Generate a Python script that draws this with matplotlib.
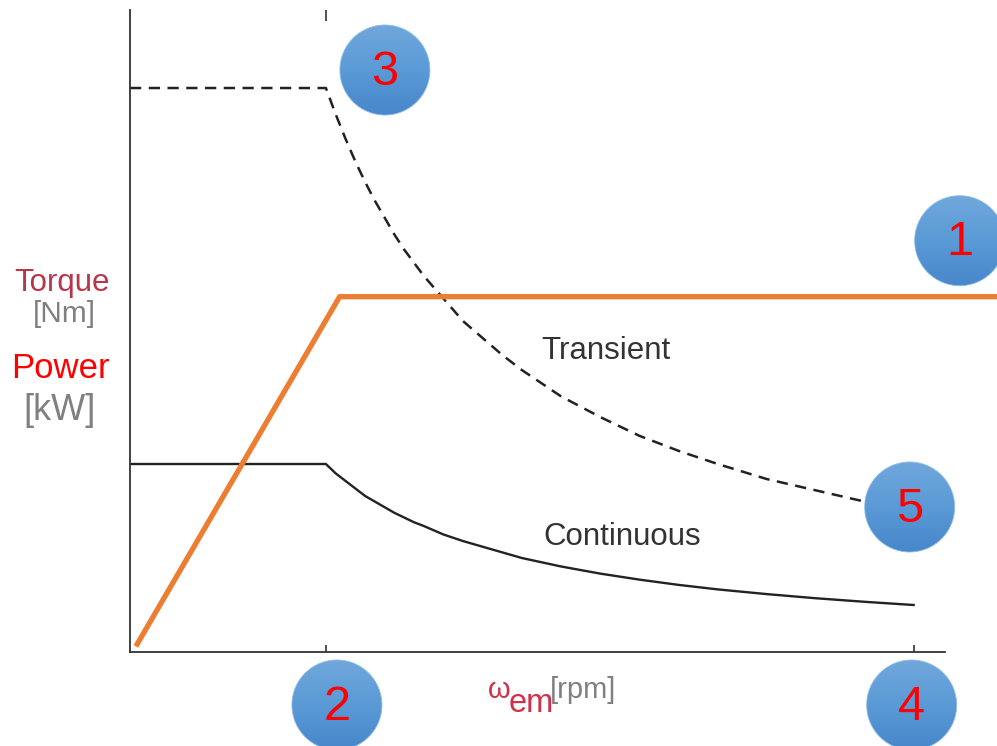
import numpy as np
import matplotlib
matplotlib.use("Agg")
import matplotlib.pyplot as plt
from matplotlib.patches import Circle
from matplotlib.colors import LinearSegmentedColormap

plt.rcParams['font.family'] = ['Liberation Sans', 'DejaVu Sans']

# speed in multiples of base speed, torque in % of continuous torque
speed = [0.0, 1.0, 1.05, 1.1, 1.15, 1.2, 1.25, 1.3, 1.35, 1.4, 1.45, 1.5, 1.6, 1.7, 1.8,
         1.9, 2.0, 2.2, 2.4, 2.6, 2.8, 3.0, 3.25, 3.5, 3.75, 4.0]
torque_cont = [100, 100, 95, 91, 87, 83, 80, 77, 74, 71.5, 69, 67, 62.5, 59, 56,
               53, 50, 45.5, 41.7, 38.5, 35.7, 33.3, 30.8, 28.6, 26.7, 25]
torque_trans = [300, 300, 286, 273, 261, 250, 240, 231, 222, 214, 207, 200, 188, 176, 167,
                158, 150, 136, 125, 115, 107, 100, 92, 86, 80, 75]
speed_power = [0.03, 1.07, 4.5]
power = [3, 189, 189]

base_speed = 1.0
max_speed = 4.0

# numbered markers: label, anchor (speed, value), offset in pixels
markers = [
    ("1", (4.0, 189), (46, 56)),
    ("2", (1.0, 0), (11, -53)),
    ("3", (1.0, 300), (59, 18)),
    ("4", (4.0, 0), (-2, -53)),
    ("5", (4.0, 75), (-4, 4)),
]

W, H = 997, 746
fig = plt.figure(figsize=(W / 100, H / 100), dpi=100)
ax = fig.add_axes([130 / W, (H - 652) / H, (945 - 130) / W, (652 - 10) / H])

ax.plot(speed, torque_trans, color='#222222', lw=1.8, dashes=(4.5, 3))
ax.plot(speed, torque_cont, color='#222222', lw=1.7)
ax.plot(speed_power, power, color='#ed7d31', lw=3.8, clip_on=False,
        solid_capstyle='butt')

ax.set_xlim(0, 4.16)
ax.set_ylim(0, 341.5)

for s in ['top', 'right']:
    ax.spines[s].set_visible(False)
for s in ['left', 'bottom']:
    ax.spines[s].set_color('#333333')
    ax.spines[s].set_linewidth(1.3)

ax.set_xticks([base_speed, max_speed])
ax.set_xticklabels([])
ax.set_yticks([])
ax.tick_params(axis='x', direction='in', length=5, width=1.2, color='#333333')
sec = ax.secondary_xaxis('top')
sec.set_xticks([base_speed])
sec.set_xticklabels([])
sec.spines['top'].set_visible(False)
sec.tick_params(direction='in', length=8, width=1.2, color='#333333')

ax.text(2.10, 160, "Transient", fontsize=22.5, color='#333333', va='center')
ax.text(2.11, 61, "Continuous", fontsize=22.5, color='#333333', va='center')

# y-axis labels
fig.text(62 / W, 1 - 283 / H, "Torque", fontsize=22.5, color='#b8364a', ha='center', va='center')
fig.text(64 / W, 1 - 314 / H, "[Nm]", fontsize=21.5, color='#808080', ha='center', va='center')
fig.text(60 / W, 1 - 369 / H, "Power", fontsize=25, color='#ff0000', ha='center', va='center')
fig.text(60 / W, 1 - 410 / H, "[kW]", fontsize=26, color='#808080', ha='center', va='center')

# x-axis label
fig.text(488 / W, 1 - 698 / H, "ω", fontsize=21, color='#d0304a', va='baseline')
fig.text(509 / W, 1 - 712 / H, "em", fontsize=23.5, color='#d0304a', va='baseline')
fig.text(550 / W, 1 - 698 / H, "[rpm]", fontsize=21, color='#808080', va='baseline')

# numbered blue circles drawn on an overlay in pixel units
ov = fig.add_axes([0, 0, 1, 1])
ov.set_xlim(0, W)
ov.set_ylim(0, H)
ov.axis('off')
cmap = LinearSegmentedColormap.from_list('blu', ['#4787cb', '#5a9ad6', '#70a7dc'])
grad = np.linspace(0, 1, 100).reshape(-1, 1)
r = 45
fig.canvas.draw()
for lab, (sx, sy), (dx, dy) in markers:
    cx, cy = ax.transData.transform((sx, sy))
    cx += dx
    cy += dy
    im = ov.imshow(grad, cmap=cmap, origin='lower', aspect='auto',
                   extent=[cx - r, cx + r, cy - r, cy + r], zorder=3)
    circ = Circle((cx, cy), r, transform=ov.transData, facecolor='none',
                  edgecolor='#8dbbe6', lw=0.6, zorder=4)
    ov.add_patch(circ)
    im.set_clip_path(circ)
    ov.text(cx, cy - 2, lab, fontsize=35, color='#ff0000', ha='center', va='center', zorder=5)
ov.set_xlim(0, W)
ov.set_ylim(0, H)

fig.savefig("out.png", dpi=100)
